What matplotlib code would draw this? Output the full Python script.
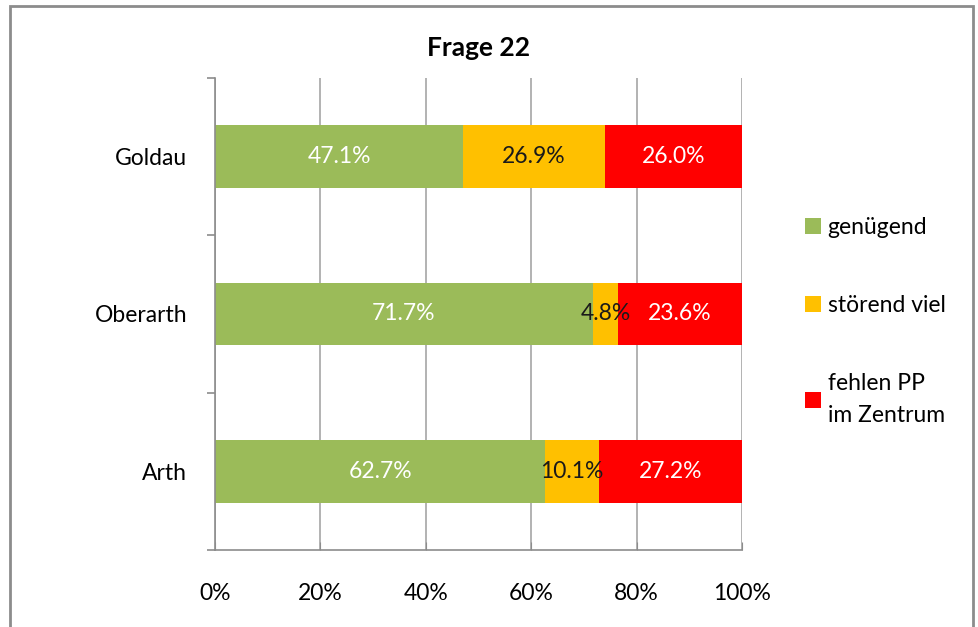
"""Stacked horizontal percentage bars for Frage 22."""

import matplotlib

matplotlib.use("Agg")

import matplotlib.pyplot as plt
from matplotlib.patches import Rectangle


categories = ["Arth", "Oberarth", "Goldau"]
genuegend = [62.7, 71.7, 47.1]
stoerend_viel = [10.1, 4.8, 26.9]
fehlen_pp = [27.2, 23.6, 26.0]
series_names = ["genügend", "störend viel", "fehlen PP\nim Zentrum"]
x_ticks = [0, 20, 40, 60, 80, 100]
x_tick_labels = ["0%", "20%", "40%", "60%", "80%", "100%"]

colors = ["#9BBB59", "#FFC000", "#FF0000"]
label_colors = ["white", "#1a1a1a", "white"]

plt.rcParams["font.family"] = ["Lato", "DejaVu Sans"]
FS = 16.5

fig = plt.figure(figsize=(9.79, 6.27), dpi=100)
ax = fig.add_axes([215 / 979, 77 / 627, 527 / 979, 472 / 627])

# outer chart frame (bottom edge is cut off in the original)
fig.patches.append(
    Rectangle((10 / 979, -0.01), 963 / 979, 1.0 - 6 / 627 + 0.01,
              transform=fig.transFigure, fill=False,
              edgecolor="#8c8c8c", linewidth=2.0)
)

y_pos = list(range(len(categories)))
left = [0.0] * len(categories)
bars = []
for values, name, color in zip([genuegend, stoerend_viel, fehlen_pp], series_names, colors):
    b = ax.barh(y_pos, values, left=left, height=0.4, color=color, label=name, zorder=2)
    bars.append(b)
    left = [l + v for l, v in zip(left, values)]

for b, values, tcolor in zip(bars, [genuegend, stoerend_viel, fehlen_pp], label_colors):
    ax.bar_label(b, labels=[f"{v:.1f}%" for v in values], label_type="center",
                 color=tcolor, fontsize=FS, zorder=3)

ax.set_xlim(0, 100)
ax.set_ylim(-0.5, 2.5)
ax.set_xticks(x_ticks)
ax.set_xticklabels(x_tick_labels, fontsize=FS)
ax.set_yticks(y_pos)
ax.set_yticklabels(categories, fontsize=FS)
ax.tick_params(axis="y", length=0, pad=20)
ax.tick_params(axis="x", length=6, direction="in", color="#8c8c8c", pad=24)

# category separators on the y axis
ax.set_yticks([-0.5, 0.5, 1.5, 2.5], minor=True)
ax.tick_params(axis="y", which="minor", length=6, color="#8c8c8c", width=1.2)

ax.grid(axis="x", color="#a6a6a6", linewidth=1.2, zorder=0)
ax.set_axisbelow(True)
for side in ["top", "right"]:
    ax.spines[side].set_visible(False)
ax.spines["left"].set_color("#8c8c8c")
ax.spines["bottom"].set_color("#8c8c8c")
ax.spines["left"].set_linewidth(1.2)
ax.spines["bottom"].set_linewidth(1.2)

ax.set_title("Frage 22", fontsize=19, fontweight="bold", pad=16)

leg = ax.legend(loc="upper left", bbox_to_anchor=(1.08, 0.75), frameon=False,
                fontsize=FS, handlelength=0.7, handleheight=0.7, handletextpad=0.3,
                labelspacing=2.5)
for txt in leg.get_texts():
    txt.set_linespacing(1.65)

fig.savefig("out.png", dpi=100)
